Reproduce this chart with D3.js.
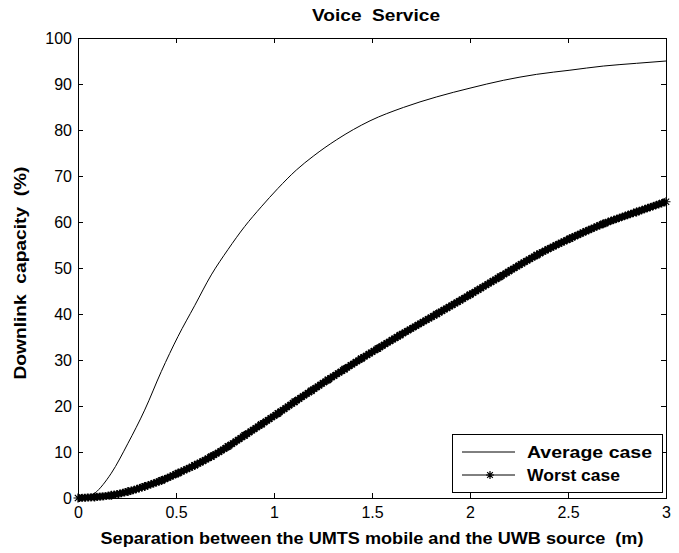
<!DOCTYPE html>
<html>
<head>
<meta charset="utf-8">
<script src="https://cdn.jsdelivr.net/npm/d3@7"></script>
<style>
  body { margin: 0; background: #fff; }
  svg { display: block; }
  .axis text { font-family: "Liberation Sans", Arial, sans-serif; font-size: 16px; fill: #000; }
  .axis path, .axis line { stroke: #000; shape-rendering: crispEdges; }
  .lbl { font-family: "Liberation Sans", Arial, sans-serif; font-weight: bold; fill: #000; }
</style>
</head>
<body>
<div id="chart"></div>
<script>
// separation (m) vs downlink capacity (%)
var avgX = [0, 0.05, 0.085, 0.17, 0.255, 0.34, 0.425, 0.51, 0.595, 0.68, 0.765, 0.85, 0.935, 1.02, 1.114, 1.2, 1.32, 1.49, 1.66, 1.83, 2.0, 2.17, 2.34, 2.51, 2.68, 2.85, 3.0];
var avgY = [0, 0, 1.0, 5.4, 11.9, 19.1, 27.5, 35.1, 41.8, 48.5, 54.0, 59.0, 63.3, 67.3, 71.3, 74.3, 77.9, 82.0, 84.9, 87.2, 89.1, 90.8, 92.1, 93.0, 93.9, 94.5, 95.0];

var worstX = [0, 0.085, 0.17, 0.255, 0.34, 0.425, 0.51, 0.595, 0.68, 0.765, 0.85, 0.935, 1.02, 1.105, 1.19, 1.275, 1.36, 1.445, 1.53, 1.643, 1.83, 2.0, 2.153, 2.34, 2.51, 2.68, 2.85, 3.0];
var worstY = [0, 0.2, 0.6, 1.4, 2.5, 3.8, 5.4, 7.1, 9.0, 11.2, 13.6, 16.0, 18.4, 20.9, 23.3, 25.7, 28.0, 30.3, 32.5, 35.4, 40.0, 44.2, 48.1, 52.8, 56.4, 59.6, 62.2, 64.4];

var xTicks = [0, 0.5, 1, 1.5, 2, 2.5, 3];
var yTicks = [0, 10, 20, 30, 40, 50, 60, 70, 80, 90, 100];

var titleText = 'Voice  Service';
var xLabel = 'Separation between the UMTS mobile and the UWB source  (m)';
var yLabel = 'Downlink  capacity  (%)';
var legendNames = ['Average case', 'Worst case'];

var W = 679, H = 553;
var margin = { top: 38, right: 13, bottom: 55, left: 78 };
var w = W - margin.left - margin.right;
var h = H - margin.top - margin.bottom;

var svg = d3.select('#chart').append('svg')
  .attr('width', W)
  .attr('height', H);
var g = svg.append('g')
  .attr('transform', 'translate(' + margin.left + ',' + margin.top + ')');

var x = d3.scaleLinear().domain([0, 3]).range([0, w]);
var y = d3.scaleLinear().domain([0, 100]).range([h, 0]);

var fmt = function(d) { return String(d); };

// axes, ticks pointing inward (box on all four sides)
var xAxis = g.append('g').attr('class', 'axis')
  .attr('transform', 'translate(0,' + h + ')')
  .call(d3.axisBottom(x).tickValues(xTicks).tickFormat(fmt).tickSizeInner(-5).tickSizeOuter(0).tickPadding(9));
var yAxis = g.append('g').attr('class', 'axis')
  .call(d3.axisLeft(y).tickValues(yTicks).tickFormat(fmt).tickSizeInner(-5).tickSizeOuter(0).tickPadding(6));
g.append('g').attr('class', 'axis')
  .call(d3.axisTop(x).tickValues(xTicks).tickFormat('').tickSizeInner(-5).tickSizeOuter(0));
g.append('g').attr('class', 'axis')
  .attr('transform', 'translate(' + w + ',0)')
  .call(d3.axisRight(y).tickValues(yTicks).tickFormat('').tickSizeInner(-5).tickSizeOuter(0));

xAxis.selectAll('.tick text').attr('dy', '0.71em');
yAxis.selectAll('.tick text').attr('dy', '0.36em');

var avgData = avgX.map(function(d, i) { return { x: d, y: avgY[i] }; });
var worstData = worstX.map(function(d, i) { return { x: d, y: worstY[i] }; });

var line = d3.line()
  .x(function(d) { return x(d.x); })
  .y(function(d) { return y(d.y); })
  .curve(d3.curveMonotoneX);

// worst case: overlapping star markers form a thick band
g.append('path')
  .datum(worstData)
  .attr('fill', 'none')
  .attr('stroke', '#000')
  .attr('stroke-width', 8)
  .attr('stroke-dasharray', '2,1')
  .attr('d', line);
g.append('path')
  .datum(worstData)
  .attr('fill', 'none')
  .attr('stroke', '#000')
  .attr('stroke-width', 6)
  .attr('d', line);

function starPath(s) {
  var d = s * 0.7071;
  return 'M' + (-s) + ',0L' + s + ',0M0,' + (-s) + 'L0,' + s +
    'M' + (-d) + ',' + (-d) + 'L' + d + ',' + d +
    'M' + (-d) + ',' + d + 'L' + d + ',' + (-d);
}

g.selectAll('.star')
  .data(worstData)
  .enter().append('path')
  .attr('class', 'star')
  .attr('transform', function(d) { return 'translate(' + x(d.x) + ',' + y(d.y) + ')'; })
  .attr('d', starPath(4.5))
  .attr('stroke', '#000')
  .attr('stroke-width', 1.2)
  .attr('fill', 'none');

// average case: thin line
g.append('path')
  .datum(avgData)
  .attr('fill', 'none')
  .attr('stroke', '#000')
  .attr('stroke-width', 1)
  .attr('d', line);

// title and axis labels
svg.append('text').attr('class', 'lbl')
  .attr('x', 376).attr('y', 21)
  .attr('text-anchor', 'middle')
  .attr('textLength', 128).attr('lengthAdjust', 'spacingAndGlyphs')
  .style('font-size', '16px')
  .style('white-space', 'pre')
  .text(titleText);

svg.append('text').attr('class', 'lbl')
  .attr('x', 372).attr('y', 544)
  .attr('text-anchor', 'middle')
  .attr('textLength', 543).attr('lengthAdjust', 'spacingAndGlyphs')
  .style('font-size', '16px')
  .style('white-space', 'pre')
  .text(xLabel);

svg.append('text').attr('class', 'lbl')
  .attr('transform', 'translate(26,273) rotate(-90)')
  .attr('text-anchor', 'middle')
  .attr('textLength', 213).attr('lengthAdjust', 'spacingAndGlyphs')
  .style('font-size', '16px')
  .style('white-space', 'pre')
  .text(yLabel);

// legend
var lg = g.append('g').attr('transform', 'translate(' + (x(2.0) - 18) + ',' + (y(100) + 396) + ')');
lg.append('rect')
  .attr('width', 210).attr('height', 58)
  .attr('fill', '#fff').attr('stroke', '#000').attr('stroke-width', 1)
  .attr('shape-rendering', 'crispEdges');
var legendWidths = [125, 93];
legendNames.forEach(function(name, i) {
  var ly = 18 + i * 23;
  lg.append('line')
    .attr('x1', 10).attr('x2', 63).attr('y1', ly).attr('y2', ly)
    .attr('stroke', '#000').attr('stroke-width', 1);
  if (i === 1) {
    lg.append('path')
      .attr('transform', 'translate(38,' + ly + ')')
      .attr('d', starPath(4))
      .attr('stroke', '#000').attr('stroke-width', 1.2);
  }
  lg.append('text').attr('class', 'lbl')
    .attr('x', 75).attr('y', ly).attr('dy', '0.36em')
    .attr('textLength', legendWidths[i]).attr('lengthAdjust', 'spacingAndGlyphs')
    .style('font-size', '16px')
    .text(name);
});
</script>
</body>
</html>
